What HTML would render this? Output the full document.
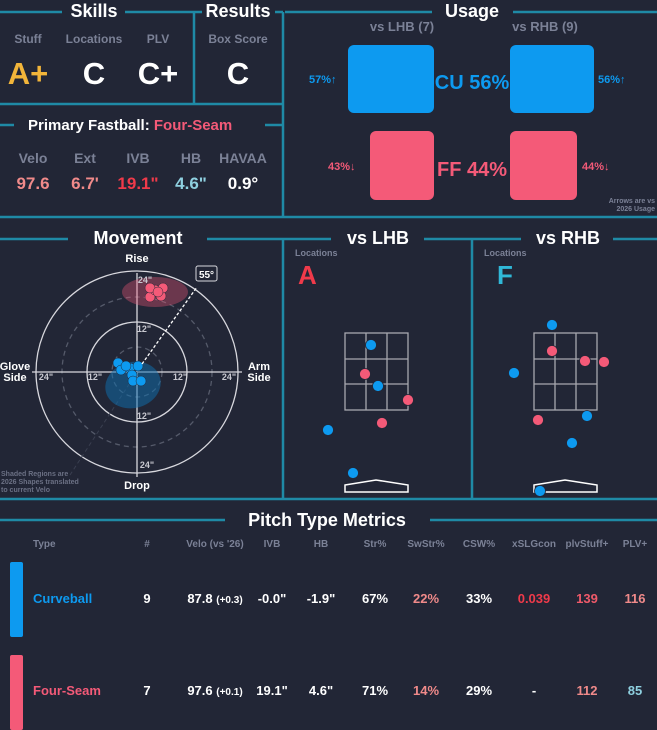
<!DOCTYPE html>
<html><head><meta charset="utf-8"><style>
html,body{margin:0;padding:0;background:#222636;}
svg{display:block;font-family:"Liberation Sans",sans-serif;font-weight:bold;}
</style></head><body>
<svg width="657" height="730" viewBox="0 0 657 730" xmlns="http://www.w3.org/2000/svg">
<rect width="657" height="730" fill="#222636"/>
<g stroke="#1f8aa6" stroke-width="2.5" fill="none">
<line x1="0" y1="12" x2="62" y2="12"/><line x1="125" y1="12" x2="202" y2="12"/>
<line x1="275" y1="12" x2="283" y2="12"/>
<line x1="285" y1="12" x2="432" y2="12"/><line x1="513" y1="12" x2="657" y2="12"/>
<line x1="194" y1="12" x2="194" y2="104"/>
<line x1="283" y1="12" x2="283" y2="217"/>
<line x1="0" y1="104" x2="283" y2="104"/>
<line x1="0" y1="125" x2="14" y2="125"/><line x1="265" y1="125" x2="283" y2="125"/>
<line x1="0" y1="217" x2="657" y2="217"/>
<line x1="0" y1="239" x2="68" y2="239"/><line x1="207" y1="239" x2="331" y2="239"/>
<line x1="424" y1="239" x2="521" y2="239"/><line x1="613" y1="239" x2="657" y2="239"/>
<line x1="283" y1="239" x2="283" y2="499"/>
<line x1="472" y1="239" x2="472" y2="499"/>
<line x1="0" y1="499" x2="657" y2="499"/>
<line x1="0" y1="520" x2="225" y2="520"/><line x1="430" y1="520" x2="657" y2="520"/>
</g>
<g fill="#fff" font-size="18" text-anchor="middle">
<text x="94" y="17">Skills</text><text x="238" y="17">Results</text><text x="472" y="17">Usage</text>
<text x="138" y="244">Movement</text><text x="378" y="244">vs LHB</text><text x="568" y="244">vs RHB</text>
<text x="327" y="526">Pitch Type Metrics</text>
</g>
<g fill="#7b8196" font-size="12" text-anchor="middle">
<text x="28" y="43">Stuff</text><text x="94" y="43">Locations</text><text x="158" y="43">PLV</text><text x="238" y="43">Box Score</text>
</g>
<g font-size="31" text-anchor="middle">
<text x="28" y="84" fill="#f2b53a">A+</text><text x="94" y="84" fill="#fff">C</text><text x="158" y="84" fill="#fff">C+</text><text x="238" y="84" fill="#fff">C</text>
</g>
<text x="28" y="130" font-size="15" fill="#fff">Primary Fastball: <tspan fill="#f45a78">Four-Seam</tspan></text>
<g fill="#7b8196" font-size="14" text-anchor="middle">
<text x="33" y="163">Velo</text><text x="85" y="163">Ext</text><text x="138" y="163">IVB</text><text x="191" y="163">HB</text><text x="243" y="163">HAVAA</text>
</g>
<g font-size="17" text-anchor="middle">
<text x="33" y="189" fill="#f08a8a">97.6</text><text x="85" y="189" fill="#f08a8a">6.7'</text><text x="138" y="189" fill="#f03a4a">19.1"</text><text x="191" y="189" fill="#8fd0e0">4.6"</text><text x="243" y="189" fill="#fff">0.9°</text>
</g>
<!-- usage -->
<g fill="#7b8196" font-size="13" text-anchor="middle"><text x="402" y="31">vs LHB (7)</text><text x="545" y="31">vs RHB (9)</text></g>
<rect x="348" y="45" width="86" height="68" rx="6" fill="#0d9af0"/>
<rect x="510" y="45" width="84" height="68" rx="6" fill="#0d9af0"/>
<rect x="370" y="131" width="64" height="69" rx="6" fill="#f45a78"/>
<rect x="510" y="131" width="67" height="69" rx="6" fill="#f45a78"/>
<text x="472" y="89" font-size="20" fill="#0d9af0" text-anchor="middle">CU 56%</text>
<text x="472" y="176" font-size="20" fill="#f45a78" text-anchor="middle">FF 44%</text>
<g font-size="11"><text x="309" y="83" fill="#0d9af0">57%↑</text><text x="598" y="83" fill="#0d9af0">56%↑</text>
<text x="328" y="170" fill="#f45a78">43%↓</text><text x="582" y="170" fill="#f45a78">44%↓</text></g>
<g font-size="7" fill="#7b8196" text-anchor="end"><text x="655" y="203">Arrows are vs</text><text x="655" y="211">2026 Usage</text></g>
<!-- movement -->
<g fill="none" stroke="#d8d8de" stroke-width="1.3">
<circle cx="137" cy="372" r="101"/><circle cx="137" cy="372" r="50"/>
<circle cx="137" cy="372" r="75" stroke="#555a6a" stroke-dasharray="5 4"/><circle cx="137" cy="372" r="25" stroke="#555a6a" stroke-dasharray="5 4"/>
<line x1="32" y1="372" x2="242" y2="372"/><line x1="137" y1="273" x2="137" y2="477"/>
</g>
<line x1="137" y1="372" x2="70" y2="475" stroke="#3a3f50" stroke-dasharray="4 3"/>
<ellipse cx="155" cy="292" rx="33" ry="15" fill="#f45a78" opacity="0.35"/>
<ellipse cx="133" cy="385" rx="28" ry="23" transform="rotate(-15 133 385)" fill="#0d6fb0" opacity="0.5"/>
<g fill="#f45a78" stroke="#222636" stroke-width="0.5"><circle cx="150" cy="297" r="5"/><circle cx="161" cy="296" r="5"/><circle cx="155" cy="290" r="5"/><circle cx="163" cy="288" r="5"/><circle cx="150" cy="288" r="5"/><circle cx="158" cy="292" r="5"/></g>
<g fill="#0d9af0" stroke="#222636" stroke-width="0.5"><circle cx="118" cy="363" r="5"/><circle cx="121" cy="370" r="5"/><circle cx="130" cy="368" r="5"/><circle cx="138" cy="366" r="5"/><circle cx="132" cy="375" r="5"/><circle cx="133" cy="381" r="5"/><circle cx="141" cy="381" r="5"/><circle cx="126" cy="366" r="5"/></g>
<line x1="142" y1="364" x2="197" y2="287" stroke="#fff" stroke-width="1.3" stroke-dasharray="3 2"/>
<rect x="196" y="266" width="21" height="15" rx="2" fill="#222636" stroke="#d8d8de"/>
<text x="206.5" y="278" font-size="10" fill="#fff" text-anchor="middle">55°</text>
<g font-size="11" fill="#fff" text-anchor="middle">
<text x="137" y="262">Rise</text><text x="137" y="489">Drop</text>
<text x="15" y="370">Glove</text><text x="15" y="381">Side</text><text x="259" y="370">Arm</text><text x="259" y="381">Side</text>
</g>
<g font-size="9" fill="#c8c8d0" text-anchor="middle">
<text x="46" y="380">24"</text><text x="95" y="380">12"</text><text x="180" y="380">12"</text><text x="229" y="380">24"</text>
<text x="145" y="283">24"</text><text x="144" y="332">12"</text><text x="144" y="419">12"</text><text x="147" y="468">24"</text>
</g>
<g font-size="7" fill="#6b7084"><text x="1" y="476">Shaded Regions are</text><text x="1" y="484">2026 Shapes translated</text><text x="1" y="492">to current Velo</text></g>
<!-- locations -->
<g font-size="9" fill="#7b8196"><text x="295" y="256">Locations</text><text x="484" y="256">Locations</text></g>
<text x="298" y="284" font-size="26" fill="#f03a4a">A</text>
<text x="497" y="284" font-size="26" fill="#30b8d8">F</text>
<g fill="none" stroke="#a8a8b0" stroke-width="1.3">
<rect x="345" y="333" width="63" height="77"/>
<line x1="366" y1="333" x2="366" y2="410"/><line x1="387" y1="333" x2="387" y2="410"/>
<line x1="345" y1="359" x2="408" y2="359"/><line x1="345" y1="384" x2="408" y2="384"/>
<rect x="534" y="333" width="63" height="77"/>
<line x1="555" y1="333" x2="555" y2="410"/><line x1="576" y1="333" x2="576" y2="410"/>
<line x1="534" y1="359" x2="597" y2="359"/><line x1="534" y1="384" x2="597" y2="384"/>
</g>
<g fill="none" stroke="#fff" stroke-width="1.5">
<polygon points="345,485 376,480 408,485 408,492 345,492"/>
<polygon points="534,485 565,480 597,485 597,492 534,492"/>
</g>
<g stroke="#222636" stroke-width="0.8">
<circle cx="371" cy="345" r="5.5" fill="#0d9af0"/><circle cx="365" cy="374" r="5.5" fill="#f45a78"/><circle cx="378" cy="386" r="5.5" fill="#0d9af0"/><circle cx="408" cy="400" r="5.5" fill="#f45a78"/><circle cx="382" cy="423" r="5.5" fill="#f45a78"/><circle cx="328" cy="430" r="5.5" fill="#0d9af0"/><circle cx="353" cy="473" r="5.5" fill="#0d9af0"/>
<circle cx="552" cy="325" r="5.5" fill="#0d9af0"/><circle cx="552" cy="351" r="5.5" fill="#f45a78"/><circle cx="585" cy="361" r="5.5" fill="#f45a78"/><circle cx="604" cy="362" r="5.5" fill="#f45a78"/><circle cx="514" cy="373" r="5.5" fill="#0d9af0"/><circle cx="538" cy="420" r="5.5" fill="#f45a78"/><circle cx="587" cy="416" r="5.5" fill="#0d9af0"/><circle cx="572" cy="443" r="5.5" fill="#0d9af0"/><circle cx="540" cy="491" r="5.5" fill="#0d9af0"/>
</g>
<!-- table -->
<g font-size="10" fill="#7b8196" text-anchor="middle">
<text x="33" y="547" text-anchor="start">Type</text><text x="147" y="547">#</text><text x="215" y="547">Velo (vs '26)</text><text x="272" y="547">IVB</text><text x="321" y="547">HB</text><text x="375" y="547">Str%</text><text x="426" y="547">SwStr%</text><text x="479" y="547">CSW%</text><text x="534" y="547">xSLGcon</text><text x="587" y="547">plvStuff+</text><text x="635" y="547">PLV+</text>
</g>
<rect x="10" y="562" width="13" height="75" rx="2" fill="#0d9af0"/>
<rect x="10" y="655" width="13" height="75" rx="2" fill="#f45a78"/>
<g font-size="13" text-anchor="middle" fill="#fff">
<text x="33" y="603" text-anchor="start" fill="#0d9af0">Curveball</text><text x="147" y="603">9</text><text x="215" y="603">87.8 <tspan font-size="10">(+0.3)</tspan></text><text x="272" y="603">-0.0"</text><text x="321" y="603">-1.9"</text><text x="375" y="603">67%</text><text x="426" y="603" fill="#f08a8a">22%</text><text x="479" y="603">33%</text><text x="534" y="603" fill="#f03a4a">0.039</text><text x="587" y="603" fill="#f05a6a">139</text><text x="635" y="603" fill="#f08a8a">116</text>
<text x="33" y="695" text-anchor="start" fill="#f45a78">Four-Seam</text><text x="147" y="695">7</text><text x="215" y="695">97.6 <tspan font-size="10">(+0.1)</tspan></text><text x="272" y="695">19.1"</text><text x="321" y="695">4.6"</text><text x="375" y="695">71%</text><text x="426" y="695" fill="#f08a8a">14%</text><text x="479" y="695">29%</text><text x="534" y="695">-</text><text x="587" y="695" fill="#f08a8a">112</text><text x="635" y="695" fill="#8fd0e0">85</text>
</g>
</svg>
</body></html>
